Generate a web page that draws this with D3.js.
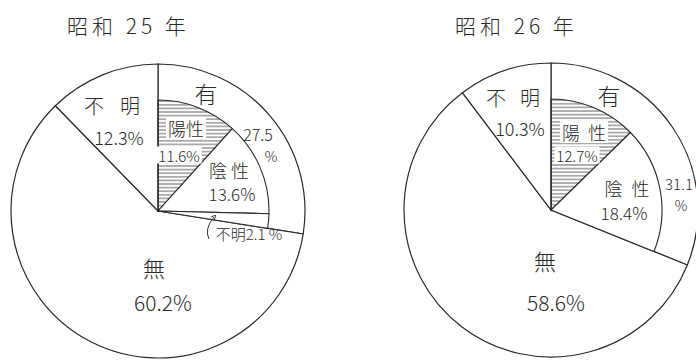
<!DOCTYPE html>
<html>
<head>
<meta charset="utf-8">
<script src="https://cdn.jsdelivr.net/npm/d3@7"></script>
<style>
  body { margin: 0; background: #fff; }
  svg text { font-family: 'Noto Sans CJK JP', 'Noto Sans', sans-serif; font-weight: 300; fill: #2a2a2a; }
</style>
</head>
<body>
<div id="chart"></div>
<script>
// data
const years = ['昭和 25 年', '昭和 26 年'];
const mainCats = ['有', '無', '不明'];
const mainValues = [[27.5, 60.2, 12.3], [31.1, 58.6, 10.3]];
const subCats = ['陽性', '陰性', '不明'];
const subValues = [[11.6, 13.6, 2.1], [12.7, 18.4, 0]];

const w = 696;
const h = 360;

// where each pie sits and where its labels go (offsets from the centre)
const charts = [
  {
    cx: 158, cy: 211, r: 147, ri: 111, titleX: 67,
    has: [48, -118], hasPct: [100, -77], pctSign: [113, -55],
    unk: [-46, -106], unkPct: [-39, -74],
    pos: [28, -83], posPct: [21, -56],
    neg: [71, -41], negPct: [74, -18],
    none: [-4, 56], nonePct: [5, 91],
    subUnk: [91, 22],
    posLs: 0, negLs: 4, unkLs: 16, hasPctSize: 16
  },
  {
    cx: 551, cy: 210, r: 147, ri: 111, titleX: 455,
    has: [58, -115], hasPct: [128, -27], pctSign: [130, -5],
    unk: [-38, -113], unkPct: [-31, -82],
    pos: [33, -78], posPct: [26, -55],
    neg: [76, -22], negPct: [73, 2],
    none: [-6, 50], nonePct: [5, 92],
    subUnk: null,
    posLs: 8, negLs: 9, unkLs: 14, hasPctSize: 15
  }
];

const svg = d3
  .select('#chart')
  .append('svg')
  .attr('width', w)
  .attr('height', h);

const defs = svg.append('defs');
const hatch = defs
  .append('pattern')
  .attr('id', 'hatch')
  .attr('patternUnits', 'userSpaceOnUse')
  .attr('width', 8)
  .attr('height', 3.6);
hatch
  .append('line')
  .attr('x1', 0)
  .attr('x2', 8)
  .attr('y1', 1.8)
  .attr('y2', 1.8)
  .attr('stroke', '#333')
  .attr('stroke-width', 0.8);

defs
  .append('marker')
  .attr('id', 'arrow')
  .attr('viewBox', '0 0 6 6')
  .attr('refX', 3)
  .attr('refY', 3)
  .attr('markerWidth', 5)
  .attr('markerHeight', 5)
  .attr('orient', 'auto')
  .append('path')
  .attr('d', 'M0,0 L6,3 L0,6')
  .attr('fill', 'none')
  .attr('stroke', '#333')
  .attr('stroke-width', 1);

const pct = (v) => `${v.toFixed(1)}%`;

charts.forEach((c, i) => {
  const g = svg.append('g').attr('transform', `translate(${c.cx},${c.cy})`);

  // title
  svg
    .append('text')
    .attr('x', c.titleX)
    .attr('y', 25)
    .attr('dominant-baseline', 'central')
    .style('font-size', '21px')
    .style('letter-spacing', '4px')
    .text(years[i]);

  // outer pie: 有 / 無 / 不明
  const pie = d3.pie().sort(null).value((d) => d);
  const outer = pie(mainValues[i]);
  const arcOuter = d3.arc().innerRadius(0).outerRadius(c.r);

  g.selectAll('path.main')
    .data(outer)
    .enter()
    .append('path')
    .attr('class', 'main')
    .attr('d', arcOuter)
    .attr('fill', '#fff')
    .attr('stroke', '#2a2a2a')
    .attr('stroke-width', 1.2);

  // inner breakdown of 有
  const subData = subValues[i]
    .map((v, k) => ({ v, k }))
    .filter((d) => d.v > 0);
  const subPie = d3
    .pie()
    .sort(null)
    .value((d) => d.v)
    .startAngle(outer[0].startAngle)
    .endAngle(outer[0].endAngle);
  const arcInner = d3.arc().innerRadius(0).outerRadius(c.ri);

  g.selectAll('path.sub')
    .data(subPie(subData))
    .enter()
    .append('path')
    .attr('class', 'sub')
    .attr('d', arcInner)
    .attr('fill', (d) => (d.data.k === 0 ? 'url(#hatch)' : '#fff'))
    .attr('stroke', '#2a2a2a')
    .attr('stroke-width', 1.1);

  // labels
  const addText = (p, t, size, ls = 0, bg = false) => {
    const el = g
      .append('text')
      .attr('x', p[0] + ls / 2)
      .attr('y', p[1])
      .attr('text-anchor', 'middle')
      .attr('dominant-baseline', 'central')
      .style('font-size', `${size}px`)
      .style('letter-spacing', `${ls}px`)
      .text(t);
    if (bg) {
      const b = el.node().getBBox();
      g.insert('rect', () => el.node())
        .attr('x', b.x - 2)
        .attr('y', b.y + 2)
        .attr('width', b.width + 4 - ls)
        .attr('height', b.height - 4)
        .attr('fill', '#fff');
    }
    return el;
  };

  addText(c.has, mainCats[0], 23);
  addText(c.hasPct, mainValues[i][0].toFixed(1), c.hasPctSize);
  addText(c.pctSign, '%', 14);
  addText(c.unk, mainCats[2], 20, c.unkLs);
  addText(c.unkPct, pct(mainValues[i][2]), 18);
  addText(c.none, mainCats[1], 22);
  addText(c.nonePct, pct(mainValues[i][1]), 21);
  addText(c.pos, subCats[0], 18, c.posLs, true);
  addText(c.posPct, pct(subValues[i][0]), 15, 0, true);
  addText(c.neg, subCats[1], 18, c.negLs);
  addText(c.negPct, pct(subValues[i][1]), 17);

  if (c.subUnk) {
    addText(c.subUnk, `${subCats[2]}${subValues[i][2].toFixed(1)} %`, 15);
    g.append('path')
      .attr('d', `M${c.subUnk[0] - 40},${c.subUnk[1] + 6} Q${c.subUnk[0] - 45},${c.subUnk[1] - 4} ${c.subUnk[0] - 35},${c.subUnk[1] - 16}`)
      .attr('fill', 'none')
      .attr('stroke', '#333')
      .attr('stroke-width', 1)
      .attr('marker-end', 'url(#arrow)');
  }
});
</script>
</body>
</html>
